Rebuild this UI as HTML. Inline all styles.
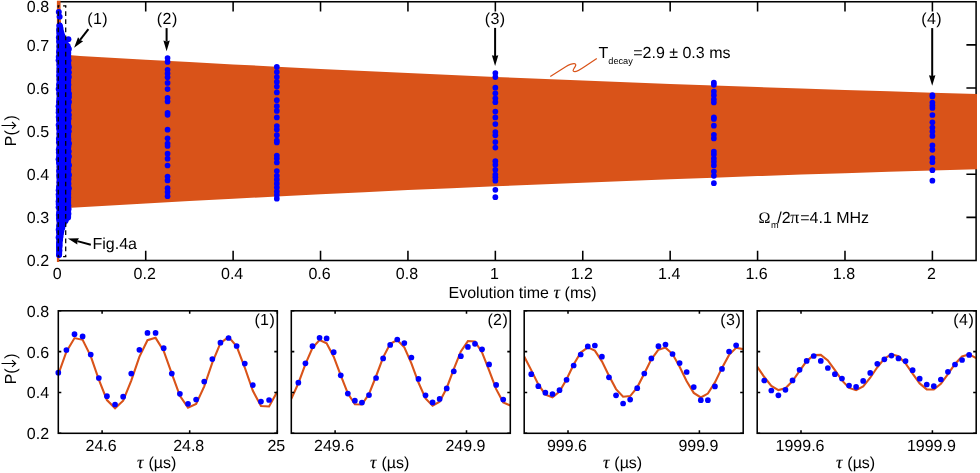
<!DOCTYPE html>
<html><head><meta charset="utf-8"><title>Figure</title>
<style>
html,body{margin:0;padding:0;background:#fff;}
svg{display:block;will-change:transform;}
text{font-family:"Liberation Sans", sans-serif;font-size:16px;fill:#000;text-rendering:geometricPrecision;}
</style></head>
<body>
<svg width="980" height="473" viewBox="0 0 980 473">
<rect width="980" height="473" fill="#fff"/>
<path d="M145.71 260.5V250.8M145.71 1.75V11.45M233.12 260.5V250.8M233.12 1.75V11.45M320.53 260.5V250.8M320.53 1.75V11.45M407.94 260.5V250.8M407.94 1.75V11.45M495.35 260.5V250.8M495.35 1.75V11.45M582.76 260.5V250.8M582.76 1.75V11.45M670.17 260.5V250.8M670.17 1.75V11.45M757.58 260.5V250.8M757.58 1.75V11.45M844.99 260.5V250.8M844.99 1.75V11.45M932.4 260.5V250.8M932.4 1.75V11.45M58.3 217.38H68M976.1 217.38H966.4M58.3 174.25H68M976.1 174.25H966.4M58.3 131.13H68M976.1 131.13H966.4M58.3 88H68M976.1 88H966.4M58.3 44.88H68M976.1 44.88H966.4" stroke="#000" stroke-width="1.55" fill="none"/>
<rect x="58.3" y="1.75" width="917.8" height="258.75" fill="none" stroke="#000" stroke-width="1.55"/>
<polygon points="56.9,0.67 60.5,0.67 60.7,18.14 61.3,25.47 62.5,35.39 64,44.88 66,50.91 68.5,53.93 71.41,55.37 80.15,55.89 102,57.17 145.71,59.68 189.41,62.1 233.12,64.44 276.82,66.7 320.53,68.88 364.23,70.99 407.94,73.03 451.64,75 495.35,76.9 539.05,78.74 582.76,80.52 626.46,82.23 670.17,83.89 713.87,85.49 757.58,87.04 801.28,88.53 844.99,89.98 888.69,91.37 932.4,92.72 977,94.02 977,169.13 932.4,170.43 888.69,171.78 844.99,173.17 801.28,174.62 757.58,176.11 713.87,177.66 670.17,179.26 626.46,180.92 582.76,182.63 539.05,184.41 495.35,186.25 451.64,188.15 407.94,190.12 364.23,192.16 320.53,194.27 276.82,196.45 233.12,198.71 189.41,201.05 145.71,203.47 102,205.98 80.15,207.26 71.41,207.78 68.5,208.32 65,213.06 63,219.53 61.5,226.86 60,236.78 59.4,244.11 59.2,262.01 56.9,262.01" fill="#D95319"/>
<clipPath id="c0"><rect x="58.3" y="310.8" width="219" height="122.5"/></clipPath>
<polyline clip-path="url(#c0)" points="58.3,374.5 66.41,351.64 74.51,338.07 82.62,339.8 90.73,356.06 98.83,379.65 106.94,400.08 115.05,408.3 123.16,400.65 131.26,380.53 139.37,356.87 147.48,340.17 155.58,337.84 163.69,350.91 171.8,373.59 179.9,395.81 188.01,407.7 196.12,403.99 204.23,386.33 212.33,362.55 220.44,343.21 228.55,336.89 236.65,346.4 244.76,367.51 252.87,390.86 260.97,406.08 269.08,406.43 277.19,391.73" fill="none" stroke="#D95319" stroke-width="2.1" stroke-linejoin="miter"/>
<circle cx="58.3" cy="372.7" r="2.85" fill="#0000FF"/>
<circle cx="66.41" cy="350" r="2.85" fill="#0000FF"/>
<circle cx="74.51" cy="334.2" r="2.85" fill="#0000FF"/>
<circle cx="82.62" cy="336.4" r="2.85" fill="#0000FF"/>
<circle cx="90.73" cy="354.5" r="2.85" fill="#0000FF"/>
<circle cx="98.83" cy="378" r="2.85" fill="#0000FF"/>
<circle cx="106.94" cy="396.2" r="2.85" fill="#0000FF"/>
<circle cx="115.05" cy="404.5" r="2.85" fill="#0000FF"/>
<circle cx="123.16" cy="396.7" r="2.85" fill="#0000FF"/>
<circle cx="131.26" cy="373.6" r="2.85" fill="#0000FF"/>
<circle cx="139.37" cy="349.8" r="2.85" fill="#0000FF"/>
<circle cx="147.48" cy="332.9" r="2.85" fill="#0000FF"/>
<circle cx="155.58" cy="332.9" r="2.85" fill="#0000FF"/>
<circle cx="163.69" cy="348.2" r="2.85" fill="#0000FF"/>
<circle cx="171.8" cy="373.6" r="2.85" fill="#0000FF"/>
<circle cx="179.9" cy="393.8" r="2.85" fill="#0000FF"/>
<circle cx="188.01" cy="403.8" r="2.85" fill="#0000FF"/>
<circle cx="196.12" cy="399.5" r="2.85" fill="#0000FF"/>
<circle cx="204.23" cy="381.6" r="2.85" fill="#0000FF"/>
<circle cx="212.33" cy="359.1" r="2.85" fill="#0000FF"/>
<circle cx="220.44" cy="342.7" r="2.85" fill="#0000FF"/>
<circle cx="228.55" cy="338" r="2.85" fill="#0000FF"/>
<circle cx="236.65" cy="346" r="2.85" fill="#0000FF"/>
<circle cx="244.76" cy="363.6" r="2.85" fill="#0000FF"/>
<circle cx="252.87" cy="385.1" r="2.85" fill="#0000FF"/>
<circle cx="260.97" cy="401.6" r="2.85" fill="#0000FF"/>
<circle cx="269.08" cy="400" r="2.85" fill="#0000FF"/>
<path d="M102.1 433.3V430.3M102.1 310.8V313.8M189.7 433.3V430.3M189.7 310.8V313.8M277.3 433.3V430.3M277.3 310.8V313.8M58.3 433.3H61.3M277.3 433.3H274.3M58.3 392.47H61.3M277.3 392.47H274.3M58.3 351.63H61.3M277.3 351.63H274.3M58.3 310.8H61.3M277.3 310.8H274.3" stroke="#000" stroke-width="1.55" fill="none"/>
<rect x="58.3" y="310.8" width="219" height="122.5" fill="none" stroke="#000" stroke-width="1.55"/>
<text x="101.1" y="451.2" text-anchor="middle">24.6</text>
<text x="188.7" y="451.2" text-anchor="middle">24.8</text>
<text x="276.3" y="451.2" text-anchor="middle">25</text>
<text y="325.2"><tspan x="254.42">(</tspan><tspan x="260.1">1</tspan><tspan x="269.5">)</tspan></text>
<text y="468.1"><tspan x="137.1" font-size="18" font-style="italic" stroke="#000" stroke-width="0.15" font-family='"Liberation Serif", serif'>&#964;</tspan><tspan x="148.4">(&#181;s)</tspan></text>
<clipPath id="c1"><rect x="291.3" y="310.8" width="219" height="122.5"/></clipPath>
<polyline clip-path="url(#c1)" points="291.3,398.94 298.36,383.27 305.43,364.06 312.49,347.81 319.56,340.04 326.62,343.38 333.69,356.71 340.75,375.49 347.82,393.36 354.88,404.26 361.95,404.48 369.01,393.95 376.07,376.25 383.14,357.37 390.2,343.74 397.27,339.96 404.33,347.32 411.4,363.33 418.46,382.55 425.53,398.47 432.59,405.67 439.65,401.72 446.72,387.96 453.78,369.06 460.85,351.42 467.91,341.04 474.98,341.43 482.04,352.47 489.11,370.4 496.17,389.15 503.24,402.35 510.3,405.52" fill="none" stroke="#D95319" stroke-width="2.1" stroke-linejoin="miter"/>
<circle cx="298.36" cy="382.7" r="2.85" fill="#0000FF"/>
<circle cx="305.43" cy="363.3" r="2.85" fill="#0000FF"/>
<circle cx="312.49" cy="346.2" r="2.85" fill="#0000FF"/>
<circle cx="319.56" cy="337.8" r="2.85" fill="#0000FF"/>
<circle cx="326.62" cy="338.4" r="2.85" fill="#0000FF"/>
<circle cx="333.69" cy="352.2" r="2.85" fill="#0000FF"/>
<circle cx="340.75" cy="375.3" r="2.85" fill="#0000FF"/>
<circle cx="347.82" cy="393.6" r="2.85" fill="#0000FF"/>
<circle cx="354.88" cy="400.7" r="2.85" fill="#0000FF"/>
<circle cx="361.95" cy="402.5" r="2.85" fill="#0000FF"/>
<circle cx="369.01" cy="395.1" r="2.85" fill="#0000FF"/>
<circle cx="376.07" cy="378" r="2.85" fill="#0000FF"/>
<circle cx="383.14" cy="358.4" r="2.85" fill="#0000FF"/>
<circle cx="390.2" cy="344.9" r="2.85" fill="#0000FF"/>
<circle cx="397.27" cy="339.5" r="2.85" fill="#0000FF"/>
<circle cx="404.33" cy="343.1" r="2.85" fill="#0000FF"/>
<circle cx="411.4" cy="357.5" r="2.85" fill="#0000FF"/>
<circle cx="418.46" cy="378.9" r="2.85" fill="#0000FF"/>
<circle cx="425.53" cy="395.3" r="2.85" fill="#0000FF"/>
<circle cx="432.59" cy="402.4" r="2.85" fill="#0000FF"/>
<circle cx="439.65" cy="398.9" r="2.85" fill="#0000FF"/>
<circle cx="446.72" cy="388.4" r="2.85" fill="#0000FF"/>
<circle cx="453.78" cy="371.3" r="2.85" fill="#0000FF"/>
<circle cx="460.85" cy="356.2" r="2.85" fill="#0000FF"/>
<circle cx="467.91" cy="346.9" r="2.85" fill="#0000FF"/>
<circle cx="474.98" cy="343.8" r="2.85" fill="#0000FF"/>
<circle cx="482.04" cy="349.3" r="2.85" fill="#0000FF"/>
<circle cx="489.11" cy="364.4" r="2.85" fill="#0000FF"/>
<circle cx="496.17" cy="384.9" r="2.85" fill="#0000FF"/>
<circle cx="503.24" cy="399.5" r="2.85" fill="#0000FF"/>
<path d="M335.1 433.3V430.3M335.1 310.8V313.8M466.5 433.3V430.3M466.5 310.8V313.8M291.3 433.3H294.3M510.3 433.3H507.3M291.3 392.47H294.3M510.3 392.47H507.3M291.3 351.63H294.3M510.3 351.63H507.3M291.3 310.8H294.3M510.3 310.8H507.3" stroke="#000" stroke-width="1.55" fill="none"/>
<rect x="291.3" y="310.8" width="219" height="122.5" fill="none" stroke="#000" stroke-width="1.55"/>
<text x="334.1" y="451.2" text-anchor="middle">249.6</text>
<text x="465.5" y="451.2" text-anchor="middle">249.9</text>
<text y="325.2"><tspan x="487.42">(</tspan><tspan x="493.1">2</tspan><tspan x="502.5">)</tspan></text>
<text y="468.1"><tspan x="370.1" font-size="18" font-style="italic" stroke="#000" stroke-width="0.15" font-family='"Liberation Serif", serif'>&#964;</tspan><tspan x="381.4">(&#181;s)</tspan></text>
<clipPath id="c2"><rect x="524.2" y="310.8" width="219" height="122.5"/></clipPath>
<polyline clip-path="url(#c2)" points="524.2,356.56 531.26,370.12 538.33,384.45 545.39,394.69 552.46,397.34 559.52,391.51 566.59,379.18 573.65,364.54 580.72,352.58 587.78,347.36 594.85,350.66 601.91,361.35 608.97,375.8 616.04,389.1 623.1,396.71 630.17,396.06 637.23,387.35 644.3,373.56 651.36,359.38 658.43,349.62 665.49,347.61 672.55,354.04 679.62,366.71 686.68,381.31 693.75,392.89 700.81,397.49 707.88,393.56 714.94,382.43 722.01,367.89 729.07,354.88 736.14,347.83 743.2,349.14" fill="none" stroke="#D95319" stroke-width="2.1" stroke-linejoin="miter"/>
<circle cx="531.26" cy="374.2" r="2.85" fill="#0000FF"/>
<circle cx="538.33" cy="386.2" r="2.85" fill="#0000FF"/>
<circle cx="545.39" cy="392.7" r="2.85" fill="#0000FF"/>
<circle cx="552.46" cy="394" r="2.85" fill="#0000FF"/>
<circle cx="559.52" cy="390.2" r="2.85" fill="#0000FF"/>
<circle cx="566.59" cy="379.8" r="2.85" fill="#0000FF"/>
<circle cx="573.65" cy="365.5" r="2.85" fill="#0000FF"/>
<circle cx="580.72" cy="354.5" r="2.85" fill="#0000FF"/>
<circle cx="587.78" cy="346.4" r="2.85" fill="#0000FF"/>
<circle cx="594.85" cy="345.5" r="2.85" fill="#0000FF"/>
<circle cx="601.91" cy="356.7" r="2.85" fill="#0000FF"/>
<circle cx="608.97" cy="377.3" r="2.85" fill="#0000FF"/>
<circle cx="616.04" cy="395.3" r="2.85" fill="#0000FF"/>
<circle cx="623.1" cy="403.5" r="2.85" fill="#0000FF"/>
<circle cx="630.17" cy="399.6" r="2.85" fill="#0000FF"/>
<circle cx="637.23" cy="388.2" r="2.85" fill="#0000FF"/>
<circle cx="644.3" cy="373.5" r="2.85" fill="#0000FF"/>
<circle cx="651.36" cy="358.4" r="2.85" fill="#0000FF"/>
<circle cx="658.43" cy="346.2" r="2.85" fill="#0000FF"/>
<circle cx="665.49" cy="344.5" r="2.85" fill="#0000FF"/>
<circle cx="672.55" cy="354" r="2.85" fill="#0000FF"/>
<circle cx="679.62" cy="363.1" r="2.85" fill="#0000FF"/>
<circle cx="686.68" cy="372" r="2.85" fill="#0000FF"/>
<circle cx="693.75" cy="387.1" r="2.85" fill="#0000FF"/>
<circle cx="700.81" cy="400.2" r="2.85" fill="#0000FF"/>
<circle cx="707.88" cy="400.2" r="2.85" fill="#0000FF"/>
<circle cx="714.94" cy="386.4" r="2.85" fill="#0000FF"/>
<circle cx="722.01" cy="368.9" r="2.85" fill="#0000FF"/>
<circle cx="729.07" cy="351.5" r="2.85" fill="#0000FF"/>
<circle cx="736.14" cy="345.3" r="2.85" fill="#0000FF"/>
<path d="M568 433.3V430.3M568 310.8V313.8M699.4 433.3V430.3M699.4 310.8V313.8M524.2 433.3H527.2M743.2 433.3H740.2M524.2 392.47H527.2M743.2 392.47H740.2M524.2 351.63H527.2M743.2 351.63H740.2M524.2 310.8H527.2M743.2 310.8H740.2" stroke="#000" stroke-width="1.55" fill="none"/>
<rect x="524.2" y="310.8" width="219" height="122.5" fill="none" stroke="#000" stroke-width="1.55"/>
<text x="567" y="451.2" text-anchor="middle">999.6</text>
<text x="698.4" y="451.2" text-anchor="middle">999.9</text>
<text y="325.2"><tspan x="720.32">(</tspan><tspan x="726">3</tspan><tspan x="735.4">)</tspan></text>
<text y="468.1"><tspan x="603" font-size="18" font-style="italic" stroke="#000" stroke-width="0.15" font-family='"Liberation Serif", serif'>&#964;</tspan><tspan x="614.3">(&#181;s)</tspan></text>
<clipPath id="c3"><rect x="757.2" y="310.8" width="219" height="122.5"/></clipPath>
<polyline clip-path="url(#c3)" points="757.2,366.55 764.26,377.01 771.33,385.84 778.39,390.07 785.46,388.26 792.52,381.04 799.59,370.83 806.65,361.08 813.72,355.09 820.78,354.87 827.85,360.5 834.91,370.08 841.97,380.37 849.04,387.91 856.1,390.14 863.17,386.32 870.23,377.73 877.3,367.27 884.36,358.48 891.43,354.32 898.49,356.19 905.55,363.47 912.62,373.69 919.68,383.41 926.75,389.35 933.81,389.5 940.88,383.81 947.94,374.2 955.01,363.92 962.07,356.43 969.14,354.27 976.2,358.16" fill="none" stroke="#D95319" stroke-width="2.1" stroke-linejoin="miter"/>
<circle cx="764.26" cy="380.5" r="2.85" fill="#0000FF"/>
<circle cx="771.33" cy="390.5" r="2.85" fill="#0000FF"/>
<circle cx="778.39" cy="395.3" r="2.85" fill="#0000FF"/>
<circle cx="785.46" cy="389.8" r="2.85" fill="#0000FF"/>
<circle cx="792.52" cy="380.4" r="2.85" fill="#0000FF"/>
<circle cx="799.59" cy="369.8" r="2.85" fill="#0000FF"/>
<circle cx="806.65" cy="360.9" r="2.85" fill="#0000FF"/>
<circle cx="813.72" cy="356" r="2.85" fill="#0000FF"/>
<circle cx="820.78" cy="360.9" r="2.85" fill="#0000FF"/>
<circle cx="827.85" cy="368" r="2.85" fill="#0000FF"/>
<circle cx="834.91" cy="374.2" r="2.85" fill="#0000FF"/>
<circle cx="841.97" cy="378.5" r="2.85" fill="#0000FF"/>
<circle cx="849.04" cy="385.5" r="2.85" fill="#0000FF"/>
<circle cx="856.1" cy="386.9" r="2.85" fill="#0000FF"/>
<circle cx="863.17" cy="380.9" r="2.85" fill="#0000FF"/>
<circle cx="870.23" cy="372.9" r="2.85" fill="#0000FF"/>
<circle cx="877.3" cy="363.8" r="2.85" fill="#0000FF"/>
<circle cx="884.36" cy="359.3" r="2.85" fill="#0000FF"/>
<circle cx="891.43" cy="355.6" r="2.85" fill="#0000FF"/>
<circle cx="898.49" cy="358.4" r="2.85" fill="#0000FF"/>
<circle cx="905.55" cy="361.1" r="2.85" fill="#0000FF"/>
<circle cx="912.62" cy="370.2" r="2.85" fill="#0000FF"/>
<circle cx="919.68" cy="378.7" r="2.85" fill="#0000FF"/>
<circle cx="926.75" cy="384.5" r="2.85" fill="#0000FF"/>
<circle cx="933.81" cy="386.2" r="2.85" fill="#0000FF"/>
<circle cx="940.88" cy="379.5" r="2.85" fill="#0000FF"/>
<circle cx="947.94" cy="371.8" r="2.85" fill="#0000FF"/>
<circle cx="955.01" cy="364.5" r="2.85" fill="#0000FF"/>
<circle cx="962.07" cy="360" r="2.85" fill="#0000FF"/>
<circle cx="969.14" cy="354.9" r="2.85" fill="#0000FF"/>
<path d="M801 433.3V430.3M801 310.8V313.8M932.4 433.3V430.3M932.4 310.8V313.8M757.2 433.3H760.2M976.2 433.3H973.2M757.2 392.47H760.2M976.2 392.47H973.2M757.2 351.63H760.2M976.2 351.63H973.2M757.2 310.8H760.2M976.2 310.8H973.2" stroke="#000" stroke-width="1.55" fill="none"/>
<rect x="757.2" y="310.8" width="219" height="122.5" fill="none" stroke="#000" stroke-width="1.55"/>
<text x="800" y="451.2" text-anchor="middle">1999.6</text>
<text x="931.4" y="451.2" text-anchor="middle">1999.9</text>
<text y="325.2"><tspan x="953.32">(</tspan><tspan x="959">4</tspan><tspan x="968.4">)</tspan></text>
<text y="468.1"><tspan x="836" font-size="18" font-style="italic" stroke="#000" stroke-width="0.15" font-family='"Liberation Serif", serif'>&#964;</tspan><tspan x="847.3">(&#181;s)</tspan></text>
<text x="49.1" y="439.2" text-anchor="end">0.2</text>
<text x="49.1" y="398.37" text-anchor="end">0.4</text>
<text x="49.1" y="357.53" text-anchor="end">0.6</text>
<text x="49.1" y="316.7" text-anchor="end">0.8</text>
<g transform="translate(15.9 384.3) rotate(-90)"><text x="0" y="0">P(<tspan dx="9.65">)</tspan></text><path d="M20.8 -14.4V-0.4M17.4 -3.9L20.8 -0.2L24.2 -3.9" stroke="#000" stroke-width="1.05" fill="none"/></g>
<circle cx="167.56" cy="58" r="2.85" fill="#0000FF"/>
<circle cx="167.56" cy="61.9" r="2.85" fill="#0000FF"/>
<circle cx="167.56" cy="69.8" r="2.85" fill="#0000FF"/>
<circle cx="167.56" cy="73.5" r="2.85" fill="#0000FF"/>
<circle cx="167.56" cy="77.3" r="2.85" fill="#0000FF"/>
<circle cx="167.56" cy="82.9" r="2.85" fill="#0000FF"/>
<circle cx="167.56" cy="89.1" r="2.85" fill="#0000FF"/>
<circle cx="167.56" cy="97.9" r="2.85" fill="#0000FF"/>
<circle cx="167.56" cy="101.5" r="2.85" fill="#0000FF"/>
<circle cx="167.56" cy="112.8" r="2.85" fill="#0000FF"/>
<circle cx="167.56" cy="114.8" r="2.85" fill="#0000FF"/>
<circle cx="167.56" cy="129.7" r="2.85" fill="#0000FF"/>
<circle cx="167.56" cy="138.3" r="2.85" fill="#0000FF"/>
<circle cx="167.56" cy="143.5" r="2.85" fill="#0000FF"/>
<circle cx="167.56" cy="146" r="2.85" fill="#0000FF"/>
<circle cx="167.56" cy="153.7" r="2.85" fill="#0000FF"/>
<circle cx="167.56" cy="158.7" r="2.85" fill="#0000FF"/>
<circle cx="167.56" cy="165.5" r="2.85" fill="#0000FF"/>
<circle cx="167.56" cy="176.5" r="2.85" fill="#0000FF"/>
<circle cx="167.56" cy="180.4" r="2.85" fill="#0000FF"/>
<circle cx="167.56" cy="188.2" r="2.85" fill="#0000FF"/>
<circle cx="167.56" cy="192" r="2.85" fill="#0000FF"/>
<circle cx="167.56" cy="196.2" r="2.85" fill="#0000FF"/>
<circle cx="276.82" cy="66.9" r="2.85" fill="#0000FF"/>
<circle cx="276.82" cy="72.1" r="2.85" fill="#0000FF"/>
<circle cx="276.82" cy="77.1" r="2.85" fill="#0000FF"/>
<circle cx="276.82" cy="81.9" r="2.85" fill="#0000FF"/>
<circle cx="276.82" cy="86.6" r="2.85" fill="#0000FF"/>
<circle cx="276.82" cy="92.4" r="2.85" fill="#0000FF"/>
<circle cx="276.82" cy="100.2" r="2.85" fill="#0000FF"/>
<circle cx="276.82" cy="106.2" r="2.85" fill="#0000FF"/>
<circle cx="276.82" cy="110.9" r="2.85" fill="#0000FF"/>
<circle cx="276.82" cy="117.4" r="2.85" fill="#0000FF"/>
<circle cx="276.82" cy="126" r="2.85" fill="#0000FF"/>
<circle cx="276.82" cy="129.6" r="2.85" fill="#0000FF"/>
<circle cx="276.82" cy="135.2" r="2.85" fill="#0000FF"/>
<circle cx="276.82" cy="140.6" r="2.85" fill="#0000FF"/>
<circle cx="276.82" cy="142.5" r="2.85" fill="#0000FF"/>
<circle cx="276.82" cy="155.5" r="2.85" fill="#0000FF"/>
<circle cx="276.82" cy="158.6" r="2.85" fill="#0000FF"/>
<circle cx="276.82" cy="162.5" r="2.85" fill="#0000FF"/>
<circle cx="276.82" cy="171.1" r="2.85" fill="#0000FF"/>
<circle cx="276.82" cy="175.8" r="2.85" fill="#0000FF"/>
<circle cx="276.82" cy="179.7" r="2.85" fill="#0000FF"/>
<circle cx="276.82" cy="183.7" r="2.85" fill="#0000FF"/>
<circle cx="276.82" cy="187.6" r="2.85" fill="#0000FF"/>
<circle cx="276.82" cy="191.5" r="2.85" fill="#0000FF"/>
<circle cx="276.82" cy="195" r="2.85" fill="#0000FF"/>
<circle cx="276.82" cy="198.7" r="2.85" fill="#0000FF"/>
<circle cx="495.35" cy="73.1" r="2.85" fill="#0000FF"/>
<circle cx="495.35" cy="77.1" r="2.85" fill="#0000FF"/>
<circle cx="495.35" cy="87.7" r="2.85" fill="#0000FF"/>
<circle cx="495.35" cy="93.3" r="2.85" fill="#0000FF"/>
<circle cx="495.35" cy="98.3" r="2.85" fill="#0000FF"/>
<circle cx="495.35" cy="102.2" r="2.85" fill="#0000FF"/>
<circle cx="495.35" cy="111.6" r="2.85" fill="#0000FF"/>
<circle cx="495.35" cy="117.4" r="2.85" fill="#0000FF"/>
<circle cx="495.35" cy="124.1" r="2.85" fill="#0000FF"/>
<circle cx="495.35" cy="132" r="2.85" fill="#0000FF"/>
<circle cx="495.35" cy="135.3" r="2.85" fill="#0000FF"/>
<circle cx="495.35" cy="142.1" r="2.85" fill="#0000FF"/>
<circle cx="495.35" cy="147.6" r="2.85" fill="#0000FF"/>
<circle cx="495.35" cy="161.2" r="2.85" fill="#0000FF"/>
<circle cx="495.35" cy="164.8" r="2.85" fill="#0000FF"/>
<circle cx="495.35" cy="169.8" r="2.85" fill="#0000FF"/>
<circle cx="495.35" cy="174.5" r="2.85" fill="#0000FF"/>
<circle cx="495.35" cy="177.3" r="2.85" fill="#0000FF"/>
<circle cx="495.35" cy="180.7" r="2.85" fill="#0000FF"/>
<circle cx="495.35" cy="189.8" r="2.85" fill="#0000FF"/>
<circle cx="495.35" cy="197.2" r="2.85" fill="#0000FF"/>
<circle cx="713.87" cy="82.6" r="2.85" fill="#0000FF"/>
<circle cx="713.87" cy="84.8" r="2.85" fill="#0000FF"/>
<circle cx="713.87" cy="91.6" r="2.85" fill="#0000FF"/>
<circle cx="713.87" cy="95.2" r="2.85" fill="#0000FF"/>
<circle cx="713.87" cy="99.4" r="2.85" fill="#0000FF"/>
<circle cx="713.87" cy="102.5" r="2.85" fill="#0000FF"/>
<circle cx="713.87" cy="117.4" r="2.85" fill="#0000FF"/>
<circle cx="713.87" cy="118.9" r="2.85" fill="#0000FF"/>
<circle cx="713.87" cy="125.7" r="2.85" fill="#0000FF"/>
<circle cx="713.87" cy="134.8" r="2.85" fill="#0000FF"/>
<circle cx="713.87" cy="138.4" r="2.85" fill="#0000FF"/>
<circle cx="713.87" cy="151.6" r="2.85" fill="#0000FF"/>
<circle cx="713.87" cy="154.4" r="2.85" fill="#0000FF"/>
<circle cx="713.87" cy="158.6" r="2.85" fill="#0000FF"/>
<circle cx="713.87" cy="161.8" r="2.85" fill="#0000FF"/>
<circle cx="713.87" cy="165.4" r="2.85" fill="#0000FF"/>
<circle cx="713.87" cy="171.6" r="2.85" fill="#0000FF"/>
<circle cx="713.87" cy="175.8" r="2.85" fill="#0000FF"/>
<circle cx="713.87" cy="183.2" r="2.85" fill="#0000FF"/>
<circle cx="932.4" cy="95" r="2.85" fill="#0000FF"/>
<circle cx="932.4" cy="96.4" r="2.85" fill="#0000FF"/>
<circle cx="932.4" cy="102.5" r="2.85" fill="#0000FF"/>
<circle cx="932.4" cy="105.5" r="2.85" fill="#0000FF"/>
<circle cx="932.4" cy="108" r="2.85" fill="#0000FF"/>
<circle cx="932.4" cy="115" r="2.85" fill="#0000FF"/>
<circle cx="932.4" cy="122.3" r="2.85" fill="#0000FF"/>
<circle cx="932.4" cy="127.6" r="2.85" fill="#0000FF"/>
<circle cx="932.4" cy="131.6" r="2.85" fill="#0000FF"/>
<circle cx="932.4" cy="135.9" r="2.85" fill="#0000FF"/>
<circle cx="932.4" cy="145.4" r="2.85" fill="#0000FF"/>
<circle cx="932.4" cy="149.8" r="2.85" fill="#0000FF"/>
<circle cx="932.4" cy="158.2" r="2.85" fill="#0000FF"/>
<circle cx="932.4" cy="162.2" r="2.85" fill="#0000FF"/>
<circle cx="932.4" cy="170.2" r="2.85" fill="#0000FF"/>
<circle cx="932.4" cy="180.7" r="2.85" fill="#0000FF"/>
<path d="M59.6 25.49V246.1M60.05 26.42V240.34M60.49 28.23V236.67M60.94 31.08V233.72M61.39 32.74V231.11M61.84 34.6V228.59M62.28 35.74V228.1M62.73 38.58V225.41M63.18 38.97V225M63.63 40.26V222.9M64.07 40.38V221.62M64.52 41.82V221.38M64.97 44.31V220.41M65.42 44.53V220.95M65.86 45.5V219.88M66.31 44.84V218.99M66.76 45.54V217.99M67.21 47.26V217.78M67.65 46.12V217.7M68.1 47.53V217.51M59.3 236L59.15 254.6" stroke="#0000FF" stroke-width="6" stroke-linecap="round" fill="none"/>
<circle cx="58.8" cy="11.9" r="3" fill="#0000FF"/>
<circle cx="59.6" cy="16.7" r="3" fill="#0000FF"/>
<circle cx="59.5" cy="25.6" r="3" fill="#0000FF"/>
<circle cx="68.4" cy="39.3" r="3" fill="#0000FF"/>
<circle cx="59" cy="254.9" r="3" fill="#0000FF"/>
<circle cx="59.3" cy="250.5" r="3" fill="#0000FF"/>
<circle cx="59.1" cy="30" r="3" fill="#0000FF"/>
<circle cx="59.47" cy="33.05" r="3" fill="#0000FF"/>
<circle cx="58.87" cy="37.5" r="3" fill="#0000FF"/>
<circle cx="59.18" cy="41.51" r="3" fill="#0000FF"/>
<circle cx="59.4" cy="46.57" r="3" fill="#0000FF"/>
<circle cx="59.68" cy="49.58" r="3" fill="#0000FF"/>
<circle cx="59.06" cy="51.99" r="3" fill="#0000FF"/>
<circle cx="58.77" cy="56.64" r="3" fill="#0000FF"/>
<circle cx="58.64" cy="60.35" r="3" fill="#0000FF"/>
<circle cx="59.44" cy="64.69" r="3" fill="#0000FF"/>
<circle cx="59.56" cy="68.7" r="3" fill="#0000FF"/>
<circle cx="59.36" cy="71.79" r="3" fill="#0000FF"/>
<circle cx="59.24" cy="75.87" r="3" fill="#0000FF"/>
<circle cx="59.52" cy="79.47" r="3" fill="#0000FF"/>
<circle cx="59.12" cy="84.78" r="3" fill="#0000FF"/>
<circle cx="58.67" cy="89.1" r="3" fill="#0000FF"/>
<circle cx="59.31" cy="93.56" r="3" fill="#0000FF"/>
<circle cx="59.5" cy="99.03" r="3" fill="#0000FF"/>
<circle cx="59.02" cy="102.03" r="3" fill="#0000FF"/>
<circle cx="58.62" cy="106.37" r="3" fill="#0000FF"/>
<circle cx="58.78" cy="109.99" r="3" fill="#0000FF"/>
<circle cx="58.66" cy="112.4" r="3" fill="#0000FF"/>
<circle cx="58.74" cy="117.08" r="3" fill="#0000FF"/>
<circle cx="59.03" cy="119.95" r="3" fill="#0000FF"/>
<circle cx="58.69" cy="125" r="3" fill="#0000FF"/>
<circle cx="59.2" cy="128.57" r="3" fill="#0000FF"/>
<circle cx="59.5" cy="133.66" r="3" fill="#0000FF"/>
<circle cx="58.91" cy="138.69" r="3" fill="#0000FF"/>
<circle cx="58.99" cy="142.14" r="3" fill="#0000FF"/>
<circle cx="59.65" cy="147.24" r="3" fill="#0000FF"/>
<circle cx="58.79" cy="149.76" r="3" fill="#0000FF"/>
<circle cx="58.86" cy="152.58" r="3" fill="#0000FF"/>
<circle cx="59.25" cy="156.27" r="3" fill="#0000FF"/>
<circle cx="58.6" cy="159.19" r="3" fill="#0000FF"/>
<circle cx="59.01" cy="162.66" r="3" fill="#0000FF"/>
<circle cx="59.65" cy="166.64" r="3" fill="#0000FF"/>
<circle cx="59.17" cy="171.06" r="3" fill="#0000FF"/>
<circle cx="59.34" cy="175.22" r="3" fill="#0000FF"/>
<circle cx="59.59" cy="177.41" r="3" fill="#0000FF"/>
<circle cx="59.56" cy="182.14" r="3" fill="#0000FF"/>
<circle cx="59.03" cy="186.93" r="3" fill="#0000FF"/>
<circle cx="58.71" cy="190.33" r="3" fill="#0000FF"/>
<circle cx="58.67" cy="194.55" r="3" fill="#0000FF"/>
<circle cx="58.83" cy="196.78" r="3" fill="#0000FF"/>
<circle cx="58.97" cy="199.35" r="3" fill="#0000FF"/>
<circle cx="58.6" cy="201.54" r="3" fill="#0000FF"/>
<circle cx="58.71" cy="204.07" r="3" fill="#0000FF"/>
<circle cx="58.63" cy="207.34" r="3" fill="#0000FF"/>
<circle cx="59.28" cy="212.4" r="3" fill="#0000FF"/>
<circle cx="58.88" cy="214.92" r="3" fill="#0000FF"/>
<circle cx="59" cy="218.13" r="3" fill="#0000FF"/>
<circle cx="59.53" cy="220.56" r="3" fill="#0000FF"/>
<circle cx="59.11" cy="226.04" r="3" fill="#0000FF"/>
<circle cx="58.69" cy="229.73" r="3" fill="#0000FF"/>
<circle cx="58.98" cy="232.09" r="3" fill="#0000FF"/>
<circle cx="59.51" cy="235.02" r="3" fill="#0000FF"/>
<circle cx="58.63" cy="237.58" r="3" fill="#0000FF"/>
<circle cx="59.18" cy="242.91" r="3" fill="#0000FF"/>
<circle cx="59.2" cy="245.42" r="3" fill="#0000FF"/>
<circle cx="59.18" cy="247.52" r="3" fill="#0000FF"/>
<circle cx="68.81" cy="49" r="3" fill="#0000FF"/>
<circle cx="68.17" cy="53.09" r="3" fill="#0000FF"/>
<circle cx="68.08" cy="56.19" r="3" fill="#0000FF"/>
<circle cx="68.46" cy="60.5" r="3" fill="#0000FF"/>
<circle cx="68.25" cy="64.84" r="3" fill="#0000FF"/>
<circle cx="68.75" cy="67.51" r="3" fill="#0000FF"/>
<circle cx="68.8" cy="72.47" r="3" fill="#0000FF"/>
<circle cx="68.76" cy="76.88" r="3" fill="#0000FF"/>
<circle cx="68.14" cy="81.1" r="3" fill="#0000FF"/>
<circle cx="68.27" cy="84.66" r="3" fill="#0000FF"/>
<circle cx="67.93" cy="86.74" r="3" fill="#0000FF"/>
<circle cx="68.17" cy="89.58" r="3" fill="#0000FF"/>
<circle cx="68.9" cy="93.66" r="3" fill="#0000FF"/>
<circle cx="68.88" cy="97" r="3" fill="#0000FF"/>
<circle cx="68.9" cy="101.96" r="3" fill="#0000FF"/>
<circle cx="68.13" cy="105.06" r="3" fill="#0000FF"/>
<circle cx="68.11" cy="107.74" r="3" fill="#0000FF"/>
<circle cx="68.56" cy="110.35" r="3" fill="#0000FF"/>
<circle cx="68.78" cy="115.05" r="3" fill="#0000FF"/>
<circle cx="68.59" cy="118.49" r="3" fill="#0000FF"/>
<circle cx="67.99" cy="122.89" r="3" fill="#0000FF"/>
<circle cx="68.86" cy="126.87" r="3" fill="#0000FF"/>
<circle cx="68.69" cy="131.22" r="3" fill="#0000FF"/>
<circle cx="68.09" cy="134.65" r="3" fill="#0000FF"/>
<circle cx="68.25" cy="139.02" r="3" fill="#0000FF"/>
<circle cx="68.92" cy="143.42" r="3" fill="#0000FF"/>
<circle cx="68.32" cy="146.61" r="3" fill="#0000FF"/>
<circle cx="68.66" cy="151.45" r="3" fill="#0000FF"/>
<circle cx="68.03" cy="153.96" r="3" fill="#0000FF"/>
<circle cx="68.85" cy="156.41" r="3" fill="#0000FF"/>
<circle cx="68.05" cy="160.83" r="3" fill="#0000FF"/>
<circle cx="68.93" cy="165.31" r="3" fill="#0000FF"/>
<circle cx="68.27" cy="169.29" r="3" fill="#0000FF"/>
<circle cx="68.04" cy="172.93" r="3" fill="#0000FF"/>
<circle cx="68.92" cy="174.97" r="3" fill="#0000FF"/>
<circle cx="68.45" cy="178.92" r="3" fill="#0000FF"/>
<circle cx="68.36" cy="183.72" r="3" fill="#0000FF"/>
<circle cx="68.77" cy="188.34" r="3" fill="#0000FF"/>
<circle cx="68.16" cy="190.97" r="3" fill="#0000FF"/>
<circle cx="68.15" cy="193.85" r="3" fill="#0000FF"/>
<circle cx="68.17" cy="197.61" r="3" fill="#0000FF"/>
<circle cx="68.04" cy="200.87" r="3" fill="#0000FF"/>
<circle cx="68.27" cy="205.6" r="3" fill="#0000FF"/>
<circle cx="68.51" cy="208.97" r="3" fill="#0000FF"/>
<circle cx="68.34" cy="213.69" r="3" fill="#0000FF"/>
<path d="M65.7 5.8V256.6M58.25 5.8V256.6" fill="none" stroke="#000" stroke-width="1.25" stroke-dasharray="4.7 3.415" stroke-dashoffset="2.7"/>
<path d="M57.6 5.8H59.5M63.1 5.8H66.3M57.6 256.6H59.5M63.1 256.6H66.3" fill="none" stroke="#000" stroke-width="1.25"/>
<path d="M88.4 29.2L80.09 39.95" stroke="#000" stroke-width="2.0" fill="none"/>
<polygon points="74.1,47.7 78.05,37.36 80.09,39.95 83.11,41.27" fill="#000"/>
<path d="M166.6 28.1L166.6 41.4" stroke="#000" stroke-width="2.0" fill="none"/>
<polygon points="166.6,51.2 163.4,40.6 166.6,41.4 169.8,40.6" fill="#000"/>
<path d="M495.1 27.9L495.1 56.1" stroke="#000" stroke-width="2.0" fill="none"/>
<polygon points="495.1,65.9 491.9,55.3 495.1,56.1 498.3,55.3" fill="#000"/>
<path d="M932.2 28.1L932.2 76" stroke="#000" stroke-width="2.0" fill="none"/>
<polygon points="932.2,85.8 929,75.2 932.2,76 935.4,75.2" fill="#000"/>
<path d="M90.8 244.7L77.37 241.12" stroke="#000" stroke-width="2.0" fill="none"/>
<polygon points="67.9,238.6 78.97,238.24 77.37,241.12 77.32,244.42" fill="#000"/>
<text y="23.8"><tspan x="87.22">(</tspan><tspan x="92.9">1</tspan><tspan x="102.3">)</tspan></text>
<text y="23.8"><tspan x="156.82">(</tspan><tspan x="162.5">2</tspan><tspan x="171.9">)</tspan></text>
<text y="23.8"><tspan x="484.72">(</tspan><tspan x="490.4">3</tspan><tspan x="499.8">)</tspan></text>
<text y="23.8"><tspan x="921.22">(</tspan><tspan x="926.9">4</tspan><tspan x="936.3">)</tspan></text>
<text x="92.5" y="249.0">Fig.4a</text>
<text y="58.0"><tspan x="598.4">T</tspan><tspan x="608.3" y="63.7" font-size="9.2">decay</tspan><tspan x="633.2" y="58.0">=2.9 &#177; 0.3 ms</tspan></text>
<path d="M550.3 76.5L565.3 66.9C568 65.4 571.5 63.6 574.1 63.7C577 63.9 575.5 66 574.1 68.3C572.8 70.5 572.5 71.6 574.8 71.7C576.5 71.7 581 69 585.6 65.9L596.8 58.5" stroke="#D95319" stroke-width="1.2" fill="none"/>
<text y="222.6"><tspan x="758.4" font-family='"Liberation Serif", serif'>&#937;</tspan><tspan x="770.9" y="228.2" font-size="9.2">m</tspan><tspan x="777.2" y="222.6">/2</tspan><tspan x="790.2" font-size="18" font-family='"Liberation Serif", serif'>&#960;</tspan><tspan x="800.2">=4.1 MHz</tspan></text>
<text x="57.3" y="279.0" text-anchor="middle">0</text>
<text x="144.71" y="279.0" text-anchor="middle">0.2</text>
<text x="232.12" y="279.0" text-anchor="middle">0.4</text>
<text x="319.53" y="279.0" text-anchor="middle">0.6</text>
<text x="406.94" y="279.0" text-anchor="middle">0.8</text>
<text x="494.35" y="279.0" text-anchor="middle">1</text>
<text x="581.76" y="279.0" text-anchor="middle">1.2</text>
<text x="669.17" y="279.0" text-anchor="middle">1.4</text>
<text x="756.58" y="279.0" text-anchor="middle">1.6</text>
<text x="843.99" y="279.0" text-anchor="middle">1.8</text>
<text x="931.4" y="279.0" text-anchor="middle">2</text>
<text x="49.1" y="266.3" text-anchor="end">0.2</text>
<text x="49.1" y="223.18" text-anchor="end">0.3</text>
<text x="49.1" y="180.05" text-anchor="end">0.4</text>
<text x="49.1" y="136.93" text-anchor="end">0.5</text>
<text x="49.1" y="93.8" text-anchor="end">0.6</text>
<text x="49.1" y="50.68" text-anchor="end">0.7</text>
<text x="49.1" y="12" text-anchor="end">0.8</text>
<g transform="translate(15.9 146.2) rotate(-90)"><text x="0" y="0">P(<tspan dx="9.65">)</tspan></text><path d="M20.8 -14.4V-0.4M17.4 -3.9L20.8 -0.2L24.2 -3.9" stroke="#000" stroke-width="1.05" fill="none"/></g>
<text y="297.8"><tspan x="448.5">Evolution time</tspan><tspan x="553.4" font-size="18" font-style="italic" stroke="#000" stroke-width="0.15" font-family='"Liberation Serif", serif'>&#964;</tspan><tspan x="564.6">(ms)</tspan></text>
</svg>
</body></html>
